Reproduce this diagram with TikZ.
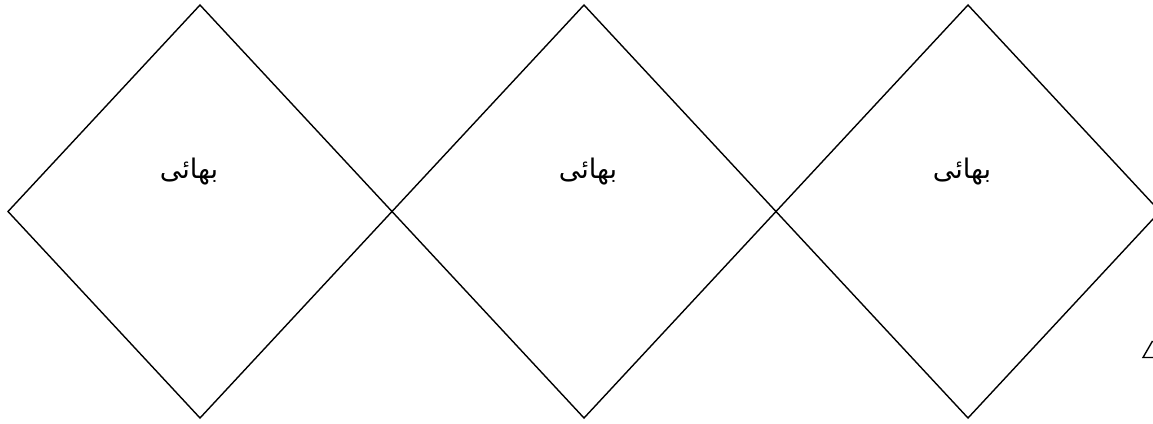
\documentclass[tikz,border=0pt]{standalone}
\usepackage{fontspec}
\newfontfamily\arabicfont[Script=Arabic]{DejaVu Sans}
\TeXXeTstate=1
\usetikzlibrary{shapes.geometric}
\begin{document}
\begin{tikzpicture}[x=1pt,y=-1pt,
  dia/.style={draw=black,line width=1.4pt,diamond,minimum width=384pt,minimum height=413pt,inner sep=0pt,outer sep=0pt},
  lbl/.style={font=\arabicfont\fontsize{27}{31}\selectfont,inner sep=0pt}]
\useasboundingbox (0,0) rectangle (1153,423);
\node[dia] (d1) at (200,211.5) {};
\node[dia] (d2) at (584,211.5) {};
\node[dia] (d3) at (968,211.5) {};
\node[lbl] (t1) at (189,172) {\beginR بھائی\endR};
\node[lbl] (t2) at (588,172) {\beginR بھائی\endR};
\node[lbl] (t3) at (962,172) {\beginR بھائی\endR};
\draw[line width=1.4pt] (1153,357.5) -- (1143,357.5) -- (1152.5,341);
\end{tikzpicture}
\end{document}
